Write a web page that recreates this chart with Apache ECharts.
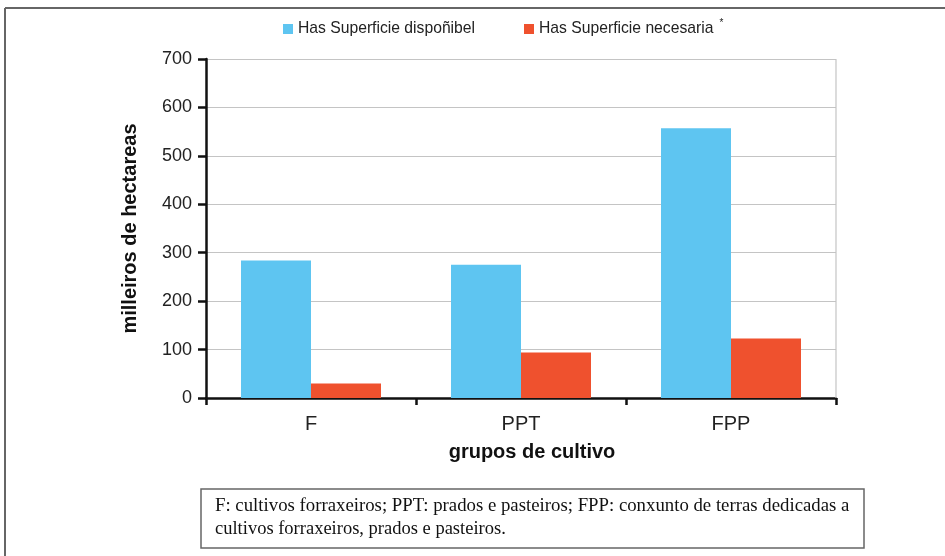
<!DOCTYPE html>
<html>
<head>
<meta charset="utf-8">
<script src="https://cdn.jsdelivr.net/npm/echarts@6/dist/echarts.min.js"></script>
<style>
  html, body { margin: 0; padding: 0; background: #fff; }
  #main { width: 945px; height: 556px; }
</style>
</head>
<body>
<div id="main"></div>
<script>
// grupos de cultivo
var categories = ['F', 'PPT', 'FPP'];
var seriesNames = ['Has Superficie dispoñibel', 'Has Superficie necesaria'];
// milleiros de hectareas
var disponibel = [284, 275, 557];
var necesaria = [30, 94, 123];
var yTicks = [0, 100, 200, 300, 400, 500, 600, 700];
var noteLines = [
  'F: cultivos forraxeiros; PPT: prados e pasteiros; FPP: conxunto de terras dedicadas a',
  'cultivos forraxeiros, prados e pasteiros.'
];

var chart = echarts.init(document.getElementById('main'), null, { renderer: 'canvas' });

var option = {
  backgroundColor: '#fff',
  animation: false,
  color: ['#5ec5f1', '#ef512e'],
  textStyle: { fontFamily: 'Liberation Sans, Arial, sans-serif' },
  legend: {
    top: 13,
    left: 278,
    itemWidth: 10,
    itemHeight: 10,
    itemGap: 49,
    icon: 'rect',
    textStyle: {
      fontSize: 15.7,
      color: '#222',
      rich: { sup: { fontSize: 10, color: '#222', verticalAlign: 'top', padding: [0, 0, 12, 6] } }
    },
    formatter: function (name) {
      return name === seriesNames[1] ? name + '{sup|*}' : name;
    },
    data: seriesNames
  },
  grid: { left: 206, right: 109, top: 59, bottom: 158 },
  xAxis: {
    type: 'category',
    data: categories,
    name: 'grupos de cultivo',
    nameLocation: 'middle',
    nameGap: 44,
    nameTextStyle: { fontSize: 20, fontWeight: 'bold', color: '#111', padding: [0, 0, 0, 22] },
    axisLine: { lineStyle: { color: '#111', width: 2.5 } },
    axisTick: { show: true, length: 7, lineStyle: { color: '#111', width: 2.5 } },
    axisLabel: { fontSize: 20, color: '#222', margin: 16 },
    splitLine: { show: false }
  },
  yAxis: {
    type: 'value',
    min: 0,
    max: yTicks[yTicks.length - 1],
    interval: 100,
    name: 'milleiros de hectareas',
    nameLocation: 'middle',
    nameGap: 66,
    nameTextStyle: { fontSize: 20, fontWeight: 'bold', color: '#111' },
    axisLine: { show: true, lineStyle: { color: '#111', width: 2.5 } },
    axisTick: { show: true, length: 8, lineStyle: { color: '#111', width: 2.5 } },
    axisLabel: { fontSize: 18, color: '#222', margin: 14 },
    splitLine: { lineStyle: { color: '#c4c4c4', width: 1.2 } }
  },
  series: [
    {
      name: seriesNames[0],
      type: 'bar',
      data: disponibel,
      barWidth: 70,
      barGap: '0%'
    },
    {
      name: seriesNames[1],
      type: 'bar',
      data: necesaria,
      barWidth: 70,
      barGap: '0%'
    }
  ],
  graphic: [
    // right border of the plot
    { type: 'line', shape: { x1: 836, y1: 59, x2: 836, y2: 398 }, style: { stroke: '#c4c4c4', lineWidth: 1.2 }, z: 1 },
    // outer frame
    { type: 'line', shape: { x1: 5, y1: 8, x2: 945, y2: 8 }, style: { stroke: '#666', lineWidth: 2 } },
    { type: 'line', shape: { x1: 5, y1: 8, x2: 5, y2: 556 }, style: { stroke: '#666', lineWidth: 2 } },
    // note box
    { type: 'rect', shape: { x: 201, y: 489, width: 663, height: 59 }, style: { fill: '#fff', stroke: '#666', lineWidth: 1.5 } },
    { type: 'text', left: 215, top: 497, style: { text: noteLines[0], font: '18.8px "Liberation Serif", "Times New Roman", serif', fill: '#111' } },
    { type: 'text', left: 215, top: 520, style: { text: noteLines[1], font: '18.5px "Liberation Serif", "Times New Roman", serif', fill: '#111' } }
  ]
};

chart.setOption(option);
</script>
</body>
</html>
